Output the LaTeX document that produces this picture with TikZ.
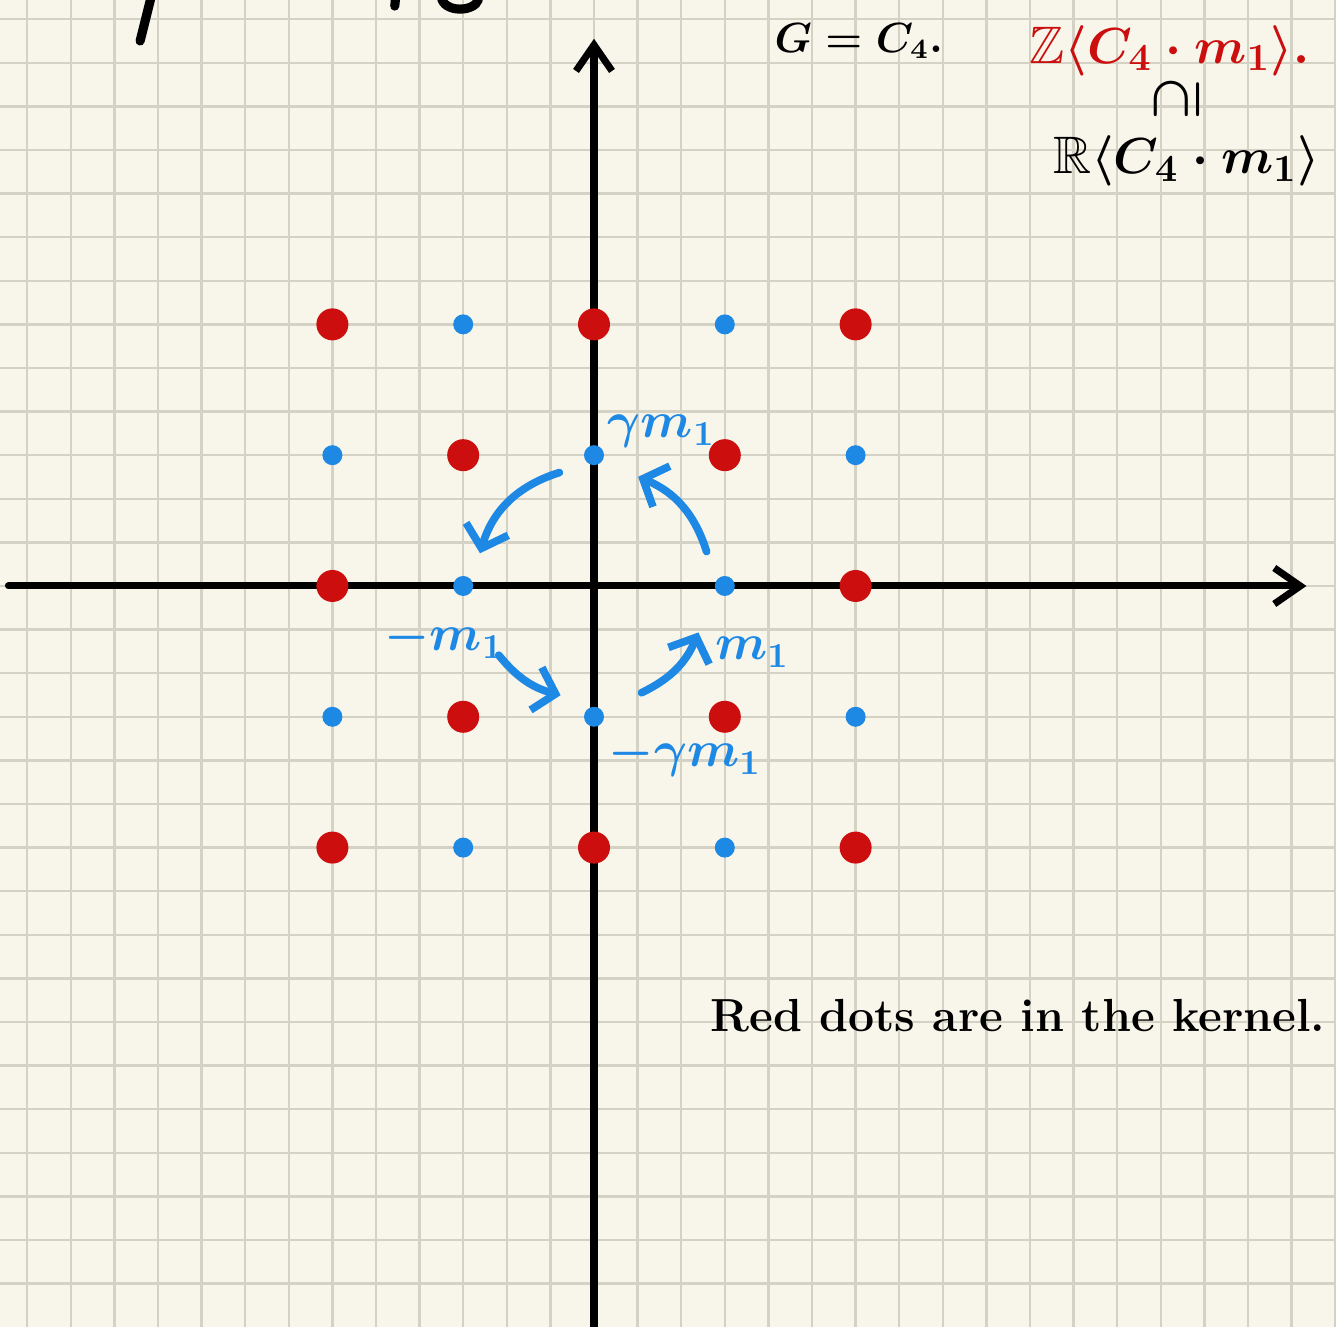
\documentclass[tikz,border=0pt]{standalone}
\usepackage{amsmath, amssymb}
\usepackage{tikz}
\usetikzlibrary{arrows.meta,positioning}
\definecolor{paper}{RGB}{248,246,234}
\definecolor{gridc}{RGB}{212,210,196}
\definecolor{kred}{RGB}{204,14,14}
\definecolor{lblue}{RGB}{30,136,229}
\begin{document}
\begin{tikzpicture}[
    x=0.436cm, y=0.436cm,
    gridline/.style={draw=gridc, line width=0.7pt},
    axis/.style={line width=2pt, line cap=round, -{Straight Barb[length=2.6mm, width=3.6mm]}},
    ink/.style={line width=2.6pt, line cap=round},
    bluedot/.style={circle, fill=lblue, inner sep=0pt, minimum size=2mm},
    kerneldot/.style={circle, fill=kred, inner sep=0pt, minimum size=3.2mm},
    turn/.style={draw=lblue, line width=2.2pt, line cap=round, -{Straight Barb[length=2mm, width=4.4mm]}},
    lbl/.style={text=lblue, inner sep=0pt, font=\fontsize{14}{17}\selectfont\boldmath},
    note/.style={inner sep=0pt, font=\fontsize{15}{18}\selectfont\bfseries\boldmath},
  ]
    % Paper
    \useasboundingbox (-13.624,-16.995) rectangle (17.018,13.44);
    \fill[paper] (-13.624,-16.995) rectangle (17.018,13.44);
    \foreach \k in {-13,...,17} \draw[gridline] (\k,-16.995) -- (\k,13.44);
    \foreach \k in {-16,...,13} \draw[gridline] (-13.624,\k) -- (17.018,\k);

    % Cut-off strokes at the top
    \draw[ink] (-10.16,13.5) -- (-10.41,12.5);
    \draw[ink] (-4.55,13.5) -- (-4.57,13.3);
    \draw[ink] (-3.5,13.5) .. controls (-3.45,13.15) and (-2.75,13.15) .. (-2.65,13.45);

    % Axes
    \coordinate (xl) at (-13.43,0);
    \coordinate (xr) at (16.34,0);
    \coordinate (yb) at (0,-17.2);
    \coordinate (yt) at (0,12.55);
    \draw[axis] (xl) -- (xr);
    \draw[axis] (yb) -- (yt);

    % Lattice
    \foreach \x in {-6,-3,0,3,6}
      \foreach \y in {-6,-3,0,3,6} {
        \ifnum\x=0 \ifnum\y=0 \else \node[bluedot] (b\x\y) at (\x,\y) {}; \fi
        \else \node[bluedot] (b\x\y) at (\x,\y) {}; \fi
      }

    % Kernel
    \foreach \x/\y [count=\i] in {-6/6,0/6,6/6,-3/3,3/3,-6/0,6/0,-3/-3,3/-3,-6/-6,0/-6,6/-6}
      \node[kerneldot] (k\i) at (\x,\y) {};

    % Rotation by C4
    \coordinate (s1) at (17:2.7);   \coordinate (e1) at (68:2.7);
    \coordinate (s2) at (107:2.72); \coordinate (e2) at (164:2.72);
    \coordinate (s3) at (216:2.7);  \coordinate (e3) at (253:2.62);
    \coordinate (s4) at (294:2.68); \coordinate (e4) at (336:2.62);
    \draw[turn] (s1) to[bend right=25] (e1);
    \draw[turn] (s2) to[bend right=28] (e2);
    \draw[turn] (s3) to[bend right=18] (e3);
    \draw[turn] (s4) to[bend right=21] (e4);

    \node[lbl] (lgm) at (1.55,3.54) {$\gamma m_1$};
    \node[lbl] (lmm) at (-3.43,-1.2) {$-m_1$};
    \node[lbl] (lm) at (3.63,-1.52) {$m_1$};
    \node[lbl] (lmgm) at (2.09,-3.89) {$-\gamma m_1$};

    % Notes
    \node[note, font=\fontsize{12}{15}\selectfont\boldmath] (grp) at (6.07,12.5) {$G = C_4.$};
    \node[note, text=kred] (zlat) at (13.2,12.28) {$\mathbb{Z}\langle C_4\cdot m_1\rangle.$};
    \node[note, rotate=90] (incl) at (13.36,11.17) {$\supseteq$};
    \node[note] (rlat) at (13.59,9.75) {$\mathbb{R}\langle C_4\cdot m_1\rangle$};
    \node[note, font=\fontsize{13.2}{16}\selectfont\bfseries] (ker) at (9.72,-9.86) {Red dots are in the kernel.};
\end{tikzpicture}
\end{document}
